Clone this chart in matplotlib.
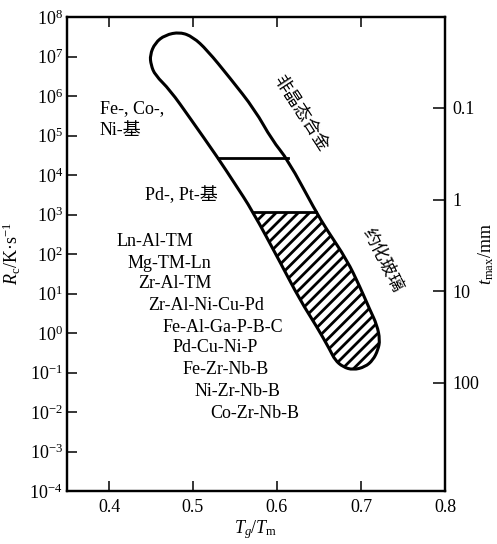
import numpy as np
import matplotlib
matplotlib.use('Agg')
import matplotlib.pyplot as plt
from matplotlib.path import Path
from matplotlib.patches import PathPatch, Rectangle
from matplotlib.ticker import NullLocator

plt.rcParams['font.family'] = ['Liberation Serif', 'Noto Sans CJK SC']
plt.rcParams['mathtext.fontset'] = 'custom'
plt.rcParams['mathtext.rm'] = 'Liberation Serif'
plt.rcParams['mathtext.it'] = 'Liberation Serif:italic'
plt.rcParams['font.size'] = 13
plt.rcParams['hatch.linewidth'] = 2.0

# outline of the glass-forming band (Tg/Tm, Rc in K/s), clockwise from the top cap
band_x = [0.4488, 0.4548, 0.4667, 0.4845, 0.5000, 0.5167, 0.5440, 0.5738, 0.5940,
          0.6131, 0.6452, 0.6595, 0.6833, 0.6988, 0.7107, 0.7190, 0.7226, 0.7202,
          0.7143, 0.7048, 0.6905, 0.6786, 0.6690, 0.6631, 0.6476, 0.6274, 0.6036,
          0.5702, 0.5500, 0.5298, 0.4964, 0.4726, 0.4548, 0.4500]
band_rc = [1.09e7, 2.2e7, 3.5e7, 4.17e7, 3.12e7, 1.46e7, 2.86e6, 4.43e5, 7.7e4,
           2.4e4, 1.3e3, 406, 70.5, 14.6, 3.82, 1.6, 0.665, 0.372,
           0.207, 0.138, 0.116, 0.138, 0.207, 0.372, 1.42, 6.84, 62.7,
           1.3e3, 5.92e3, 2.69e4, 2.77e5, 1.42e6, 3.4e6, 6.1e6]

# divider lines inside the band
upper_div_x = [0.5298, 0.6125]
upper_div_rc = [2.69e4, 2.69e4]
hatch_top_x = [0.571, 0.647]
hatch_top_rc = [1.15e3, 1.15e3]

x_ticks = [0.4, 0.5, 0.6, 0.7, 0.8]
rc_exponents = list(range(-4, 9))
tmax_ticks = [0.1, 1, 10, 100]
tmax_labels = ['0.1', '1', '10', '100']

alloys = ['Ln-Al-TM', 'Mg-TM-Ln', 'Zr-Al-TM', 'Zr-Al-Ni-Cu-Pd', 'Fe-Al-Ga-P-B-C',
          'Pd-Cu-Ni-P', 'Fe-Zr-Nb-B', 'Ni-Zr-Nb-B', 'Co-Zr-Nb-B']
# left edge / vertical centre of each alloy label, in pixels of the 497x544 picture
alloy_px = [117, 128, 138, 148, 163, 173, 183, 195, 210]
alloy_py = [241, 263, 284, 305, 327, 348, 370, 392, 413]

AX_L, AX_R, AX_T, AX_B = 67, 445, 17, 491
W, H = 497, 544


def axfrac(px, py):
    return (px - AX_L) / (AX_R - AX_L), (AX_B - py) / (AX_B - AX_T)


fig = plt.figure(figsize=(W / 100, H / 100), dpi=100)
ax = fig.add_axes([AX_L / W, 1 - AX_B / H, (AX_R - AX_L) / W, (AX_B - AX_T) / H])
ax.set_xlim(0.35, 0.8)
ax.set_yscale('log')
ax.set_ylim(1e-4, 1e8)
ax.set_xticks(x_ticks)
ax.set_xticklabels(['%.1f' % v for v in x_ticks])
ax.set_yticks([10.0 ** e for e in rc_exponents])
ax.yaxis.set_minor_locator(NullLocator())
ax.tick_params(which='major', direction='in', length=7, width=1.1,
               top=True, right=False, labelsize=13)
ax.tick_params(axis='x', pad=6)
ax.tick_params(axis='y', pad=3)
for s in ax.spines.values():
    s.set_linewidth(1.6)

# smooth outline: quadratic B-spline through the read points (in log space)
px = np.array(band_x)
pl = np.log10(band_rc)
mx = (px + np.roll(px, -1)) / 2
ml = (pl + np.roll(pl, -1)) / 2
verts = [(mx[-1], ml[-1])]
codes = [Path.MOVETO]
for i in range(len(px)):
    verts += [(px[i], pl[i]), (mx[i], ml[i])]
    codes += [Path.CURVE3, Path.CURVE3]
verts.append(verts[0])
codes.append(Path.CLOSEPOLY)
verts = np.array(verts)
verts[:, 1] = 10 ** verts[:, 1]
band = Path(verts, codes)

hatched = PathPatch(band, facecolor='none', edgecolor='black', lw=0, hatch='///')
ax.add_patch(hatched)
clip = Rectangle((0.35, 1e-5), 0.45, hatch_top_rc[0] - 1e-5, transform=ax.transData)
hatched.set_clip_path(clip)

ax.add_patch(PathPatch(band, facecolor='none', edgecolor='black', lw=2.2,
                       joinstyle='round'))
ax.plot(upper_div_x, upper_div_rc, color='black', lw=2.0)
ax.plot(hatch_top_x, hatch_top_rc, color='black', lw=2.0)

# annotations
x0, y0 = axfrac(100, 109)
ax.text(x0, y0, 'Fe-, Co-,', transform=ax.transAxes, ha='left', va='center')
x0, y0 = axfrac(100, 131)
ax.text(x0, y0, 'Ni-基', transform=ax.transAxes, ha='left', va='center')
x0, y0 = axfrac(145, 195)
ax.text(x0, y0, 'Pd-, Pt-基', transform=ax.transAxes, ha='left', va='center')
for name, xp, yp in zip(alloys, alloy_px, alloy_py):
    x0, y0 = axfrac(xp, yp)
    ax.text(x0, y0, name, transform=ax.transAxes, ha='left', va='center')

x0, y0 = axfrac(300, 114)
ax.text(x0, y0, '非晶态合金', transform=ax.transAxes, ha='center', va='center',
        rotation=-57, rotation_mode='anchor', fontsize=12.5)
x0, y0 = axfrac(382, 261)
ax.text(x0, y0, '约化玻璃', transform=ax.transAxes, ha='center', va='center',
        rotation=-63, rotation_mode='anchor', fontsize=12.5)

# axis labels
x0, y0 = axfrac(12, 254)
ax.text(x0, y0, r'$R_{\rm c}$/K·s$^{-1}$', transform=ax.transAxes, rotation=90,
        ha='center', va='center', fontsize=13)
x0, y0 = axfrac(256, 530)
ax.text(x0, y0, r'$T_g/T_{\rm m}$', transform=ax.transAxes,
        ha='center', va='center', fontsize=13)
x0, y0 = axfrac(486, 254)
ax.text(x0, y0, r'$t_{\rm max}$/mm', transform=ax.transAxes, rotation=90,
        ha='center', va='center', fontsize=13)

# right axis: maximum thickness
ax2 = ax.twinx()
ax2.set_yscale('log')
ax2.set_ylim(1507, 0.0102)
ax2.set_yticks(tmax_ticks)
ax2.set_yticklabels(tmax_labels)
ax2.yaxis.set_minor_locator(NullLocator())
ax2.tick_params(which='major', direction='in', length=9, width=1.1, pad=5, labelsize=13)
for s in ax2.spines.values():
    s.set_linewidth(1.6)

fig.savefig('out.png', dpi=100)
